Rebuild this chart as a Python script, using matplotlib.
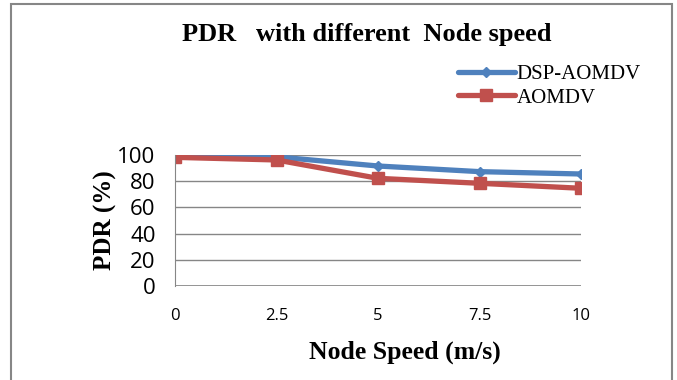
import matplotlib
matplotlib.use("Agg")
import matplotlib.pyplot as plt
from matplotlib.patches import Rectangle

speeds = [0, 2.5, 5, 7.5, 10]
speed_labels = ["0", "2.5", "5", "7.5", "10"]
pdr_dsp_aomdv = [98.2, 98.6, 91.6, 87.3, 85.5]
pdr_aomdv = [98.2, 96.2, 82.2, 78.4, 74.6]

blue = "#4F81BD"
red = "#C0504D"
serif = "Liberation Serif"

fig = plt.figure(figsize=(6.77, 3.80), dpi=100)
ax = fig.add_axes([175 / 677, 1 - 286 / 380, (581 - 175) / 677, (286 - 155) / 380])

ax.plot(speeds, pdr_dsp_aomdv, color=blue, lw=3.8, marker="D", ms=5,
        label="DSP-AOMDV", solid_capstyle="round")
ax.plot(speeds, pdr_aomdv, color=red, lw=3.8, marker="s", ms=9,
        label="AOMDV", solid_capstyle="round")

ax.set_xlim(0, 10)
ax.set_ylim(0, 100)
ax.set_yticks(range(0, 101, 20))
ax.set_xticks(speeds)
ax.set_xticklabels(speed_labels)
ax.yaxis.grid(True, color="#868686", lw=1)
ax.set_axisbelow(True)
for side in ["top", "right", "bottom"]:
    ax.spines[side].set_visible(False)
ax.spines["left"].set_color("#868686")
ax.axhline(0, color="#868686", lw=1.2, zorder=1)
ax.tick_params(axis="y", length=0, labelsize=16, pad=14)
ax.tick_params(axis="x", length=0, labelsize=12, pad=16)
for lbl in ax.get_yticklabels() + ax.get_xticklabels():
    lbl.set_fontfamily("Open Sans")

ax.set_xlabel("Node Speed (m/s)", fontfamily=serif, fontweight="bold",
              fontsize=18.5, labelpad=12)
ax.xaxis.set_label_coords((405 - 175) / 406, -(352 - 286) / 131)
ax.xaxis.label.set_va("center")
ax.set_ylabel("PDR (%)", fontfamily=serif, fontweight="bold",
              fontsize=18, labelpad=0)
fig.text(367 / 677, 1 - 35 / 380, "PDR   with different  Node speed",
         fontfamily=serif, fontweight="bold", fontsize=19,
         ha="center", va="center")

leg = fig.legend(loc="upper left", bbox_to_anchor=(450 / 677, 1 - 56 / 380),
                 frameon=False, prop={"family": serif, "size": 15},
                 handlelength=2.7, handletextpad=0.1, labelspacing=0.2,
                 borderaxespad=0)

fig.patches.append(Rectangle((11 / 677, -0.02), 661 / 677, 1 - 4 / 380 + 0.02,
                             transform=fig.transFigure, fill=False,
                             edgecolor="#868686", lw=1.5))

fig.savefig("out.png", dpi=100)
